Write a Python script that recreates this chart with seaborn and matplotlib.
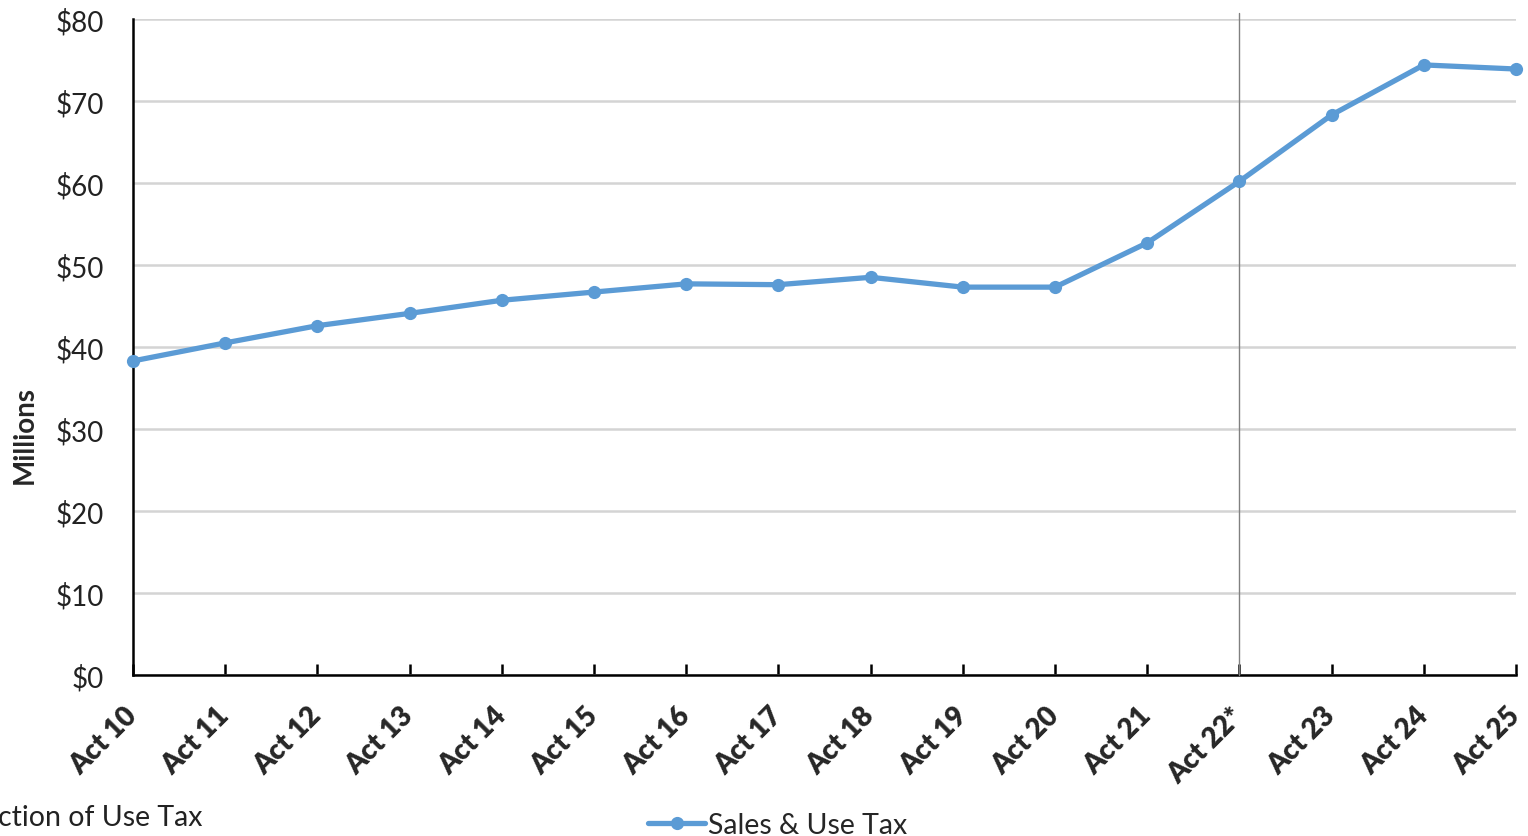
import matplotlib
matplotlib.use("Agg")
import matplotlib.pyplot as plt
import seaborn as sns
import pandas as pd

categories = ["Act 10", "Act 11", "Act 12", "Act 13", "Act 14", "Act 15", "Act 16", "Act 17",
              "Act 18", "Act 19", "Act 20", "Act 21", "Act 22*", "Act 23", "Act 24", "Act 25"]
sales_use_tax = [38.3, 40.5, 42.6, 44.1, 45.7, 46.7, 47.7, 47.6,
                 48.5, 47.3, 47.3, 52.7, 60.2, 68.3, 74.4, 73.9]
y_ticks = [0, 10, 20, 30, 40, 50, 60, 70, 80]
y_tick_labels = ["$0", "$10", "$20", "$30", "$40", "$50", "$60", "$70", "$80"]
series_name = "Sales & Use Tax"
divider_category = "Act 22*"
footnote = "ction of Use Tax"

sns.set_theme(style="white")
plt.rcParams["font.family"] = ["Lato", "DejaVu Sans"]

df = pd.DataFrame({"Year": categories, "Value": sales_use_tax})

fig = plt.figure(figsize=(15.28, 8.37), dpi=100)
ax = fig.add_axes([133 / 1528, 1 - 676 / 837, (1516 - 133) / 1528, (676 - 20) / 837])

ax.set_ylim(0, 80)
ax.set_yticks(y_ticks)
ax.set_yticklabels(y_tick_labels, fontsize=20, color="#222222")
ax.yaxis.grid(True, color="#d4d4d4", linewidth=1.8)
ax.set_axisbelow(True)

sns.lineplot(data=df, x="Year", y="Value", sort=False, ax=ax, color="#5b9bd5",
             linewidth=3.8, marker="o", markersize=9.5, markeredgewidth=0,
             label=series_name, clip_on=False, zorder=5)

ax.set_xlim(0, len(categories) - 1)
ax.axvline(categories.index(divider_category), ymin=0, ymax=(676 - 14) / 656,
           color="#808080", linewidth=1.0, clip_on=False, zorder=3)

ax.set_xlabel("")
ax.set_ylabel("Millions", fontsize=20, fontweight="bold")
ax.yaxis.set_label_coords((38 - 133) / 1383, (676 - 435) / 656)
ax.set_xticks(range(len(categories)))
ax.set_xticklabels(categories, rotation=45, ha="right", va="center",
                   rotation_mode="anchor", fontsize=20, fontweight="heavy")
ax.tick_params(axis="x", which="both", bottom=True, length=8, width=1.8,
               color="black", direction="in", pad=26)
ax.tick_params(axis="y", length=0, pad=21)

for side in ["top", "right"]:
    ax.spines[side].set_visible(False)
for side in ["left", "bottom"]:
    ax.spines[side].set_color("black")
    ax.spines[side].set_linewidth(1.8)

ax.get_legend().remove()
handles, labels = ax.get_legend_handles_labels()
fig.legend(handles, labels, loc="center", bbox_to_anchor=(0.509, 0.013), frameon=False,
           fontsize=20.5, handlelength=2.0, handletextpad=0.1, numpoints=1)

fig.text(-0.001, 1 - 818 / 837, footnote, fontsize=20.5, color="#222222",
         ha="left", va="center")

fig.savefig("out.png", dpi=100)
